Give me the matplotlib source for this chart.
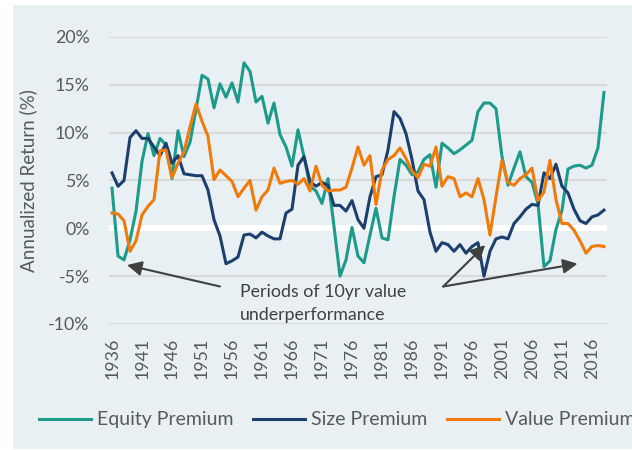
import matplotlib
matplotlib.use("Agg")
import matplotlib.pyplot as plt
from matplotlib.patches import Rectangle
import numpy as np

years = list(range(1936, 2019))

equity_premium = [
    4.2, -2.9, -3.3, -1.2, 1.8, 7.0, 9.9, 7.6, 9.4, 8.7,
    5.2, 10.2, 7.5, 9.0, 12.4, 16.0, 15.6, 12.6, 15.1, 13.7,
    15.2, 13.2, 17.3, 16.4, 13.2, 13.8, 11.0, 13.1, 9.8, 8.5,
    6.5, 10.3, 7.5, 4.4, 3.9, 2.6, 5.2, 0.2, -5.0, -3.3,
    0.1, -2.9, -3.6, -0.7, 2.1, -1.0, -1.2, 3.3, 7.2, 6.6,
    5.6, 5.9, 7.2, 7.7, 4.3, 8.9, 8.4, 7.8, 8.2, 8.7,
    9.2, 12.2, 13.1, 13.1, 12.5, 7.5, 4.5, 6.3, 8.0, 5.4,
    4.8, 2.6, -4.0, -3.4, -0.1, 1.9, 6.2, 6.5, 6.6, 6.3,
    6.6, 8.4, 14.2,
]

size_premium = [
    5.8, 4.4, 5.0, 9.5, 10.2, 9.4, 9.4, 8.5, 7.6, 8.9,
    6.8, 7.6, 5.7, 5.6, 5.5, 5.5, 4.0, 0.9, -0.8, -3.7,
    -3.4, -3.0, -0.7, -0.6, -1.0, -0.4, -0.8, -1.1, -1.1, 1.6,
    2.0, 6.6, 7.5, 4.9, 4.4, 4.8, 4.5, 2.4, 2.4, 1.8,
    2.9, 0.9, 0.0, 3.3, 5.4, 5.6, 8.2, 12.2, 11.5, 9.9,
    7.2, 3.9, 3.0, -0.4, -2.4, -1.5, -1.7, -2.4, -1.7, -2.6,
    -1.9, -1.5, -5.0, -2.4, -1.1, -0.9, -1.1, 0.5, 1.2, 2.0,
    2.5, 2.4, 5.8, 5.2, 6.7, 4.4, 3.7, 2.0, 0.8, 0.5,
    1.2, 1.4, 1.9,
]

value_premium = [
    1.6, 1.5, 0.8, -2.4, -1.3, 1.4, 2.3, 3.0, 8.1, 8.2,
    5.3, 6.8, 8.0, 10.6, 13.0, 11.2, 9.6, 5.1, 6.1, 5.5,
    4.9, 3.3, 4.2, 5.0, 1.9, 3.3, 4.0, 6.3, 4.7, 4.9,
    5.0, 4.6, 5.2, 3.9, 6.5, 4.5, 3.9, 4.0, 4.0, 4.3,
    6.3, 8.5, 6.6, 7.6, 2.5, 6.1, 7.2, 7.6, 8.4, 7.3,
    6.0, 5.3, 6.7, 6.5, 8.5, 4.4, 5.4, 5.2, 3.3, 3.7,
    3.3, 5.2, 3.0, -0.7, 3.3, 7.1, 4.8, 4.5, 5.2, 5.6,
    6.3, 2.9, 3.8, 7.1, 3.0, 0.5, 0.5, -0.2, -1.3, -2.6,
    -1.9, -1.8, -1.9,
]

series_names = ["Equity Premium", "Size Premium", "Value Premium"]
series_colors = ["#1E9A8A", "#1C3F6E", "#F07A0A"]

y_ticks = [-10, -5, 0, 5, 10, 15, 20]
x_tick_years = list(range(1936, 2019, 5))

annotation_text = "Periods of 10yr value\nunderperformance"

FONT = ["Lato", "DejaVu Sans"]
plt.rcParams["font.family"] = FONT

fig = plt.figure(figsize=(6.32, 4.5), dpi=100)
fig.patch.set_facecolor("white")
panel = Rectangle((0.02, 0.002), 0.98, 0.987, transform=fig.transFigure,
                  facecolor="#E8F0F4", edgecolor="none", zorder=-10)
fig.add_artist(panel)

ax = fig.add_axes([0.1725, 0.28, 0.7879, 0.6378])
ax.set_zorder(1)
ax.set_facecolor("none")

ax.set_xlim(1935.5, 2018.5)
ax.set_ylim(-10, 20)

for yv in y_ticks:
    if yv == 0:
        ax.axhline(yv, color="white", lw=4.2, zorder=1)
    else:
        ax.axhline(yv, color="#D9D9D9", lw=1.5, zorder=1)

for vals, name, col in zip([equity_premium, size_premium, value_premium], series_names, series_colors):
    ax.plot(years, vals, color=col, lw=2.2, label=name, zorder=3, solid_joinstyle="round")

ax.set_yticks(y_ticks)
ax.set_yticklabels([f"{v}%" for v in y_ticks])
ax.set_xticks(x_tick_years)
ax.set_xticklabels([str(y) for y in x_tick_years], rotation=90)
ax.tick_params(axis="y", length=0, pad=14, labelsize=12.8, labelcolor="#595959")
ax.tick_params(axis="x", length=0, pad=10, labelsize=12.8, labelcolor="#595959")
for s in ax.spines.values():
    s.set_visible(False)

ax.set_ylabel("Annualized Return (%)", fontsize=13.5, color="#595959", labelpad=8)

# annotation
ax.text(1957.3, -7.9, annotation_text, ha="left", va="center", fontsize=12.8,
        color="#404040", linespacing=1.55, zorder=4)
arrow_kw = dict(arrowstyle="-|>", color="#404040", lw=1.5, mutation_scale=22,
                shrinkA=0, shrinkB=0)
ax.annotate("", xy=(1938.5, -3.84), xytext=(1954.0, -6.08), arrowprops=arrow_kw, zorder=4)
ax.annotate("", xy=(1998.2, -1.75), xytext=(1991.2, -6.08), arrowprops=arrow_kw, zorder=4)
ax.annotate("", xy=(2013.6, -3.7), xytext=(1991.2, -6.08), arrowprops=arrow_kw, zorder=4)

handles, labels = ax.get_legend_handles_labels()
leg = fig.legend(handles, labels, loc="center left", bbox_to_anchor=(0.061, 0.067),
                 ncol=3, frameon=False, fontsize=14, handlelength=2.7,
                 handletextpad=0.3, columnspacing=1.0, borderaxespad=0, borderpad=0)
for t in leg.get_texts():
    t.set_color("#595959")

fig.savefig("out.png", dpi=100)
